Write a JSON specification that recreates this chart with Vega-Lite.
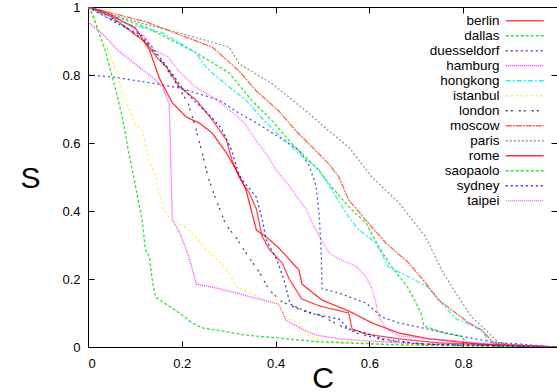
{
  "$schema": "https://vega.github.io/schema/vega-lite/v6.json",
  "width": 469,
  "height": 340,
  "autosize": {"type": "none"},
  "padding": {"left": 88, "top": 7, "right": 0, "bottom": 45},
  "background": "white",
  "config": {
    "view": {"stroke": "black", "strokeWidth": 1},
    "font": "Liberation Sans",
    "axis": {"grid": false, "domain": false, "tickColor": "black", "labelColor": "black", "labelFont": "Liberation Sans", "labelFontSize": 13, "titleFont": "Liberation Sans", "titleFontWeight": "normal", "titleColor": "black"}
  },
  "data": {"values": [
    {"city":"berlin","c":0,"s":1},{"city":"berlin","c":0.052,"s":0.97},{"city":"berlin","c":0.088,"s":0.932},{"city":"berlin","c":0.124,"s":0.894},{"city":"berlin","c":0.146,"s":0.853},{"city":"berlin","c":0.167,"s":0.824},{"city":"berlin","c":0.195,"s":0.765},{"city":"berlin","c":0.231,"s":0.726},{"city":"berlin","c":0.265,"s":0.668},{"city":"berlin","c":0.295,"s":0.609},{"city":"berlin","c":0.307,"s":0.55},{"city":"berlin","c":0.322,"s":0.5},{"city":"berlin","c":0.344,"s":0.453},{"city":"berlin","c":0.359,"s":0.406},{"city":"berlin","c":0.371,"s":0.326},{"city":"berlin","c":0.386,"s":0.288},{"city":"berlin","c":0.414,"s":0.247},{"city":"berlin","c":0.429,"s":0.2},{"city":"berlin","c":0.456,"s":0.141},{"city":"berlin","c":0.493,"s":0.121},{"city":"berlin","c":0.556,"s":0.1},{"city":"berlin","c":0.563,"s":0.053},{"city":"berlin","c":0.593,"s":0.038},{"city":"berlin","c":0.663,"s":0.024},{"city":"berlin","c":0.748,"s":0.012},{"city":"berlin","c":1,"s":0},
    {"city":"dallas","c":0,"s":1},{"city":"dallas","c":0.124,"s":0.941},{"city":"dallas","c":0.231,"s":0.865},{"city":"dallas","c":0.301,"s":0.806},{"city":"dallas","c":0.35,"s":0.724},{"city":"dallas","c":0.393,"s":0.665},{"city":"dallas","c":0.435,"s":0.597},{"city":"dallas","c":0.486,"s":0.529},{"city":"dallas","c":0.52,"s":0.47},{"city":"dallas","c":0.556,"s":0.412},{"city":"dallas","c":0.593,"s":0.365},{"city":"dallas","c":0.62,"s":0.294},{"city":"dallas","c":0.648,"s":0.235},{"city":"dallas","c":0.68,"s":0.179},{"city":"dallas","c":0.695,"s":0.141},{"city":"dallas","c":0.71,"s":0.1},{"city":"dallas","c":0.716,"s":0.062},{"city":"dallas","c":0.759,"s":0.041},{"city":"dallas","c":0.795,"s":0.032},{"city":"dallas","c":0.808,"s":0.012},{"city":"dallas","c":0.876,"s":0.003},{"city":"dallas","c":1,"s":0},
    {"city":"duesseldorf","c":0,"s":0.8},{"city":"duesseldorf","c":0.052,"s":0.794},{"city":"duesseldorf","c":0.124,"s":0.779},{"city":"duesseldorf","c":0.195,"s":0.762},{"city":"duesseldorf","c":0.231,"s":0.747},{"city":"duesseldorf","c":0.28,"s":0.726},{"city":"duesseldorf","c":0.322,"s":0.688},{"city":"duesseldorf","c":0.359,"s":0.659},{"city":"duesseldorf","c":0.407,"s":0.618},{"city":"duesseldorf","c":0.45,"s":0.579},{"city":"duesseldorf","c":0.471,"s":0.535},{"city":"duesseldorf","c":0.486,"s":0.476},{"city":"duesseldorf","c":0.493,"s":0.388},{"city":"duesseldorf","c":0.497,"s":0.285},{"city":"duesseldorf","c":0.499,"s":0.171},{"city":"duesseldorf","c":0.535,"s":0.159},{"city":"duesseldorf","c":0.593,"s":0.129},{"city":"duesseldorf","c":0.627,"s":0.088},{"city":"duesseldorf","c":0.663,"s":0.071},{"city":"duesseldorf","c":0.733,"s":0.05},{"city":"duesseldorf","c":0.805,"s":0.029},{"city":"duesseldorf","c":0.861,"s":0.015},{"city":"duesseldorf","c":1,"s":0},
    {"city":"hamburg","c":0,"s":0.956},{"city":"hamburg","c":0.031,"s":0.921},{"city":"hamburg","c":0.065,"s":0.871},{"city":"hamburg","c":0.101,"s":0.832},{"city":"hamburg","c":0.137,"s":0.794},{"city":"hamburg","c":0.159,"s":0.765},{"city":"hamburg","c":0.173,"s":0.715},{"city":"hamburg","c":0.176,"s":0.579},{"city":"hamburg","c":0.178,"s":0.462},{"city":"hamburg","c":0.18,"s":0.374},{"city":"hamburg","c":0.195,"s":0.338},{"city":"hamburg","c":0.21,"s":0.285},{"city":"hamburg","c":0.222,"s":0.232},{"city":"hamburg","c":0.231,"s":0.185},{"city":"hamburg","c":0.265,"s":0.176},{"city":"hamburg","c":0.316,"s":0.159},{"city":"hamburg","c":0.365,"s":0.141},{"city":"hamburg","c":0.407,"s":0.126},{"city":"hamburg","c":0.422,"s":0.079},{"city":"hamburg","c":0.456,"s":0.053},{"city":"hamburg","c":0.486,"s":0.035},{"city":"hamburg","c":0.535,"s":0.024},{"city":"hamburg","c":0.593,"s":0.018},{"city":"hamburg","c":0.705,"s":0.009},{"city":"hamburg","c":1,"s":0},
    {"city":"hongkong","c":0,"s":1},{"city":"hongkong","c":0.052,"s":0.962},{"city":"hongkong","c":0.159,"s":0.924},{"city":"hongkong","c":0.231,"s":0.865},{"city":"hongkong","c":0.244,"s":0.835},{"city":"hongkong","c":0.265,"s":0.806},{"city":"hongkong","c":0.301,"s":0.765},{"city":"hongkong","c":0.337,"s":0.726},{"city":"hongkong","c":0.38,"s":0.659},{"city":"hongkong","c":0.444,"s":0.576},{"city":"hongkong","c":0.493,"s":0.521},{"city":"hongkong","c":0.52,"s":0.462},{"city":"hongkong","c":0.556,"s":0.382},{"city":"hongkong","c":0.578,"s":0.344},{"city":"hongkong","c":0.614,"s":0.306},{"city":"hongkong","c":0.641,"s":0.235},{"city":"hongkong","c":0.684,"s":0.206},{"city":"hongkong","c":0.722,"s":0.179},{"city":"hongkong","c":0.759,"s":0.121},{"city":"hongkong","c":0.786,"s":0.082},{"city":"hongkong","c":0.822,"s":0.062},{"city":"hongkong","c":0.844,"s":0.041},{"city":"hongkong","c":0.854,"s":0.015},{"city":"hongkong","c":0.92,"s":0.003},{"city":"hongkong","c":1,"s":0},
    {"city":"istanbul","c":0,"s":1},{"city":"istanbul","c":0.016,"s":0.95},{"city":"istanbul","c":0.037,"s":0.891},{"city":"istanbul","c":0.059,"s":0.812},{"city":"istanbul","c":0.073,"s":0.753},{"city":"istanbul","c":0.086,"s":0.706},{"city":"istanbul","c":0.101,"s":0.656},{"city":"istanbul","c":0.116,"s":0.635},{"city":"istanbul","c":0.122,"s":0.597},{"city":"istanbul","c":0.131,"s":0.55},{"city":"istanbul","c":0.144,"s":0.503},{"city":"istanbul","c":0.152,"s":0.453},{"city":"istanbul","c":0.161,"s":0.406},{"city":"istanbul","c":0.173,"s":0.379},{"city":"istanbul","c":0.193,"s":0.365},{"city":"istanbul","c":0.21,"s":0.35},{"city":"istanbul","c":0.231,"s":0.321},{"city":"istanbul","c":0.259,"s":0.276},{"city":"istanbul","c":0.286,"s":0.244},{"city":"istanbul","c":0.307,"s":0.203},{"city":"istanbul","c":0.318,"s":0.174},{"city":"istanbul","c":0.337,"s":0.165},{"city":"istanbul","c":0.369,"s":0.144},{"city":"istanbul","c":0.407,"s":0.124},{"city":"istanbul","c":0.424,"s":0.085},{"city":"istanbul","c":0.45,"s":0.071},{"city":"istanbul","c":0.467,"s":0.038},{"city":"istanbul","c":0.486,"s":0.024},{"city":"istanbul","c":0.514,"s":0.018},{"city":"istanbul","c":0.62,"s":0.009},{"city":"istanbul","c":1,"s":0},
    {"city":"london","c":0,"s":1},{"city":"london","c":0.037,"s":0.979},{"city":"london","c":0.08,"s":0.941},{"city":"london","c":0.122,"s":0.9},{"city":"london","c":0.144,"s":0.862},{"city":"london","c":0.165,"s":0.824},{"city":"london","c":0.193,"s":0.765},{"city":"london","c":0.214,"s":0.715},{"city":"london","c":0.229,"s":0.647},{"city":"london","c":0.244,"s":0.568},{"city":"london","c":0.256,"s":0.5},{"city":"london","c":0.271,"s":0.441},{"city":"london","c":0.293,"s":0.362},{"city":"london","c":0.316,"s":0.321},{"city":"london","c":0.337,"s":0.276},{"city":"london","c":0.365,"s":0.221},{"city":"london","c":0.386,"s":0.168},{"city":"london","c":0.414,"s":0.132},{"city":"london","c":0.45,"s":0.112},{"city":"london","c":0.493,"s":0.094},{"city":"london","c":0.535,"s":0.065},{"city":"london","c":0.578,"s":0.038},{"city":"london","c":0.641,"s":0.018},{"city":"london","c":0.748,"s":0.006},{"city":"london","c":1,"s":0},
    {"city":"moscow","c":0,"s":1},{"city":"moscow","c":0.124,"s":0.956},{"city":"moscow","c":0.265,"s":0.882},{"city":"moscow","c":0.322,"s":0.812},{"city":"moscow","c":0.359,"s":0.753},{"city":"moscow","c":0.407,"s":0.694},{"city":"moscow","c":0.444,"s":0.635},{"city":"moscow","c":0.478,"s":0.588},{"city":"moscow","c":0.514,"s":0.538},{"city":"moscow","c":0.535,"s":0.5},{"city":"moscow","c":0.556,"s":0.432},{"city":"moscow","c":0.605,"s":0.353},{"city":"moscow","c":0.635,"s":0.306},{"city":"moscow","c":0.684,"s":0.247},{"city":"moscow","c":0.72,"s":0.188},{"city":"moscow","c":0.748,"s":0.138},{"city":"moscow","c":0.784,"s":0.1},{"city":"moscow","c":0.812,"s":0.071},{"city":"moscow","c":0.84,"s":0.05},{"city":"moscow","c":0.865,"s":0.012},{"city":"moscow","c":0.92,"s":0.003},{"city":"moscow","c":1,"s":0},
    {"city":"paris","c":0,"s":1},{"city":"paris","c":0.088,"s":0.962},{"city":"paris","c":0.195,"s":0.924},{"city":"paris","c":0.301,"s":0.882},{"city":"paris","c":0.323,"s":0.832},{"city":"paris","c":0.393,"s":0.774},{"city":"paris","c":0.465,"s":0.694},{"city":"paris","c":0.514,"s":0.635},{"city":"paris","c":0.556,"s":0.588},{"city":"paris","c":0.605,"s":0.5},{"city":"paris","c":0.663,"s":0.424},{"city":"paris","c":0.72,"s":0.324},{"city":"paris","c":0.754,"s":0.226},{"city":"paris","c":0.784,"s":0.159},{"city":"paris","c":0.818,"s":0.088},{"city":"paris","c":0.848,"s":0.05},{"city":"paris","c":0.876,"s":0.012},{"city":"paris","c":0.95,"s":0.003},{"city":"paris","c":1,"s":0},
    {"city":"rome","c":0,"s":1},{"city":"rome","c":0.037,"s":0.985},{"city":"rome","c":0.101,"s":0.938},{"city":"rome","c":0.131,"s":0.874},{"city":"rome","c":0.152,"s":0.791},{"city":"rome","c":0.18,"s":0.718},{"city":"rome","c":0.21,"s":0.676},{"city":"rome","c":0.237,"s":0.659},{"city":"rome","c":0.265,"s":0.629},{"city":"rome","c":0.295,"s":0.571},{"city":"rome","c":0.316,"s":0.521},{"city":"rome","c":0.337,"s":0.462},{"city":"rome","c":0.359,"s":0.344},{"city":"rome","c":0.38,"s":0.324},{"city":"rome","c":0.407,"s":0.291},{"city":"rome","c":0.45,"s":0.226},{"city":"rome","c":0.456,"s":0.185},{"city":"rome","c":0.499,"s":0.138},{"city":"rome","c":0.556,"s":0.106},{"city":"rome","c":0.605,"s":0.071},{"city":"rome","c":0.663,"s":0.041},{"city":"rome","c":0.727,"s":0.024},{"city":"rome","c":0.833,"s":0.009},{"city":"rome","c":1,"s":0},
    {"city":"saopaolo","c":0,"s":1},{"city":"saopaolo","c":0.01,"s":0.979},{"city":"saopaolo","c":0.022,"s":0.929},{"city":"saopaolo","c":0.037,"s":0.871},{"city":"saopaolo","c":0.052,"s":0.794},{"city":"saopaolo","c":0.065,"s":0.724},{"city":"saopaolo","c":0.073,"s":0.676},{"city":"saopaolo","c":0.08,"s":0.626},{"city":"saopaolo","c":0.086,"s":0.576},{"city":"saopaolo","c":0.095,"s":0.518},{"city":"saopaolo","c":0.101,"s":0.476},{"city":"saopaolo","c":0.107,"s":0.432},{"city":"saopaolo","c":0.116,"s":0.368},{"city":"saopaolo","c":0.122,"s":0.288},{"city":"saopaolo","c":0.131,"s":0.265},{"city":"saopaolo","c":0.137,"s":0.197},{"city":"saopaolo","c":0.144,"s":0.147},{"city":"saopaolo","c":0.163,"s":0.129},{"city":"saopaolo","c":0.195,"s":0.1},{"city":"saopaolo","c":0.222,"s":0.071},{"city":"saopaolo","c":0.244,"s":0.056},{"city":"saopaolo","c":0.286,"s":0.047},{"city":"saopaolo","c":0.337,"s":0.035},{"city":"saopaolo","c":0.407,"s":0.026},{"city":"saopaolo","c":0.493,"s":0.015},{"city":"saopaolo","c":0.663,"s":0.006},{"city":"saopaolo","c":1,"s":0},
    {"city":"sydney","c":0,"s":1},{"city":"sydney","c":0.065,"s":0.95},{"city":"sydney","c":0.116,"s":0.915},{"city":"sydney","c":0.137,"s":0.882},{"city":"sydney","c":0.159,"s":0.841},{"city":"sydney","c":0.18,"s":0.803},{"city":"sydney","c":0.201,"s":0.762},{"city":"sydney","c":0.229,"s":0.721},{"city":"sydney","c":0.259,"s":0.682},{"city":"sydney","c":0.284,"s":0.644},{"city":"sydney","c":0.306,"s":0.579},{"city":"sydney","c":0.32,"s":0.515},{"city":"sydney","c":0.329,"s":0.491},{"city":"sydney","c":0.359,"s":0.441},{"city":"sydney","c":0.371,"s":0.379},{"city":"sydney","c":0.38,"s":0.315},{"city":"sydney","c":0.403,"s":0.256},{"city":"sydney","c":0.418,"s":0.197},{"city":"sydney","c":0.431,"s":0.126},{"city":"sydney","c":0.471,"s":0.1},{"city":"sydney","c":0.535,"s":0.082},{"city":"sydney","c":0.556,"s":0.053},{"city":"sydney","c":0.593,"s":0.041},{"city":"sydney","c":0.627,"s":0.024},{"city":"sydney","c":0.705,"s":0.009},{"city":"sydney","c":1,"s":0},
    {"city":"taipei","c":0,"s":1},{"city":"taipei","c":0.082,"s":0.953},{"city":"taipei","c":0.122,"s":0.912},{"city":"taipei","c":0.137,"s":0.876},{"city":"taipei","c":0.171,"s":0.853},{"city":"taipei","c":0.193,"s":0.812},{"city":"taipei","c":0.229,"s":0.765},{"city":"taipei","c":0.265,"s":0.735},{"city":"taipei","c":0.293,"s":0.706},{"city":"taipei","c":0.32,"s":0.676},{"city":"taipei","c":0.335,"s":0.656},{"city":"taipei","c":0.359,"s":0.606},{"city":"taipei","c":0.38,"s":0.568},{"city":"taipei","c":0.401,"s":0.521},{"city":"taipei","c":0.429,"s":0.474},{"city":"taipei","c":0.444,"s":0.444},{"city":"taipei","c":0.465,"s":0.406},{"city":"taipei","c":0.478,"s":0.365},{"city":"taipei","c":0.493,"s":0.326},{"city":"taipei","c":0.514,"s":0.276},{"city":"taipei","c":0.535,"s":0.259},{"city":"taipei","c":0.571,"s":0.238},{"city":"taipei","c":0.593,"s":0.206},{"city":"taipei","c":0.605,"s":0.174},{"city":"taipei","c":0.614,"s":0.129},{"city":"taipei","c":0.62,"s":0.088},{"city":"taipei","c":0.637,"s":0.053},{"city":"taipei","c":0.663,"s":0.032},{"city":"taipei","c":0.733,"s":0.024},{"city":"taipei","c":0.833,"s":0.012},{"city":"taipei","c":1,"s":0}
  ]},
  "layer": [
    {
      "mark": {"type": "line", "strokeWidth": 1.3, "opacity": 0.8, "clip": true},
      "encoding": {
        "x": {"field": "c", "type": "quantitative", "scale": {"domain": [0, 1], "nice": false, "zero": false},
              "axis": {"orient": "bottom", "title": "C", "values": [0, 0.2, 0.4, 0.6, 0.8], "format": "~g", "tickSize": -6, "labelPadding": 16, "titleFontSize": 30, "titleBaseline": "alphabetic", "titleY": 40}},
        "y": {"field": "s", "type": "quantitative", "scale": {"domain": [0, 1], "nice": false},
              "axis": {"orient": "left", "title": "S", "values": [0, 0.2, 0.4, 0.6, 0.8, 1], "format": "~g", "tickSize": -6, "labelPadding": 14, "titleFontSize": 30, "titleAngle": 0, "titleAlign": "center", "titleBaseline": "middle", "titleX": -58, "titleY": 171}},
        "color": {"field": "city", "type": "nominal",
          "scale": {"domain": ["berlin","dallas","duesseldorf","hamburg","hongkong","istanbul","london","moscow","paris","rome","saopaolo","sydney","taipei"],
                    "range": ["#ff2020","#00e000","#2020ff","#ff00ff","#00e8e8","#f0f000","#202020","#ff4020","#808080","#ff0000","#00dd00","#0000ff","#ff40ff"]},
          "legend": {"orient": "none", "legendX": 430, "legendY": 7, "title": null, "symbolType": "M-4,0H4", "symbolSize": 90, "symbolStrokeWidth": 1.5, "labelAlign": "right", "labelOffset": -32, "labelFontSize": 13.5, "labelFont": "Liberation Sans", "labelColor": "black", "rowPadding": 0, "padding": 0, "symbolOpacity": 0.8, "labelLimit": 0}},
        "strokeDash": {"field": "city", "type": "nominal",
          "scale": {"domain": ["berlin","dallas","duesseldorf","hamburg","hongkong","istanbul","london","moscow","paris","rome","saopaolo","sydney","taipei"],
                    "range": [[1,0],[3,2],[2,3],[1,1],[5,2,2,2],[2,3],[2,3,2,6],[6,1,2,1],[2,2],[1,0],[3,2],[2,3],[1,1]]},
          "legend": null}
      }
    },
    {
      "mark": {"type": "point", "opacity": 0},
      "encoding": {
        "x": {"field": "c", "type": "quantitative", "axis": {"orient": "top", "labels": false, "title": null, "values": [0, 0.2, 0.4, 0.6, 0.8], "tickSize": -6}},
        "y": {"field": "s", "type": "quantitative", "axis": {"orient": "right", "labels": false, "title": null, "values": [0, 0.2, 0.4, 0.6, 0.8, 1], "tickSize": -6}}
      }
    }
  ],
  "resolve": {"axis": {"x": "independent", "y": "independent"}}
}
